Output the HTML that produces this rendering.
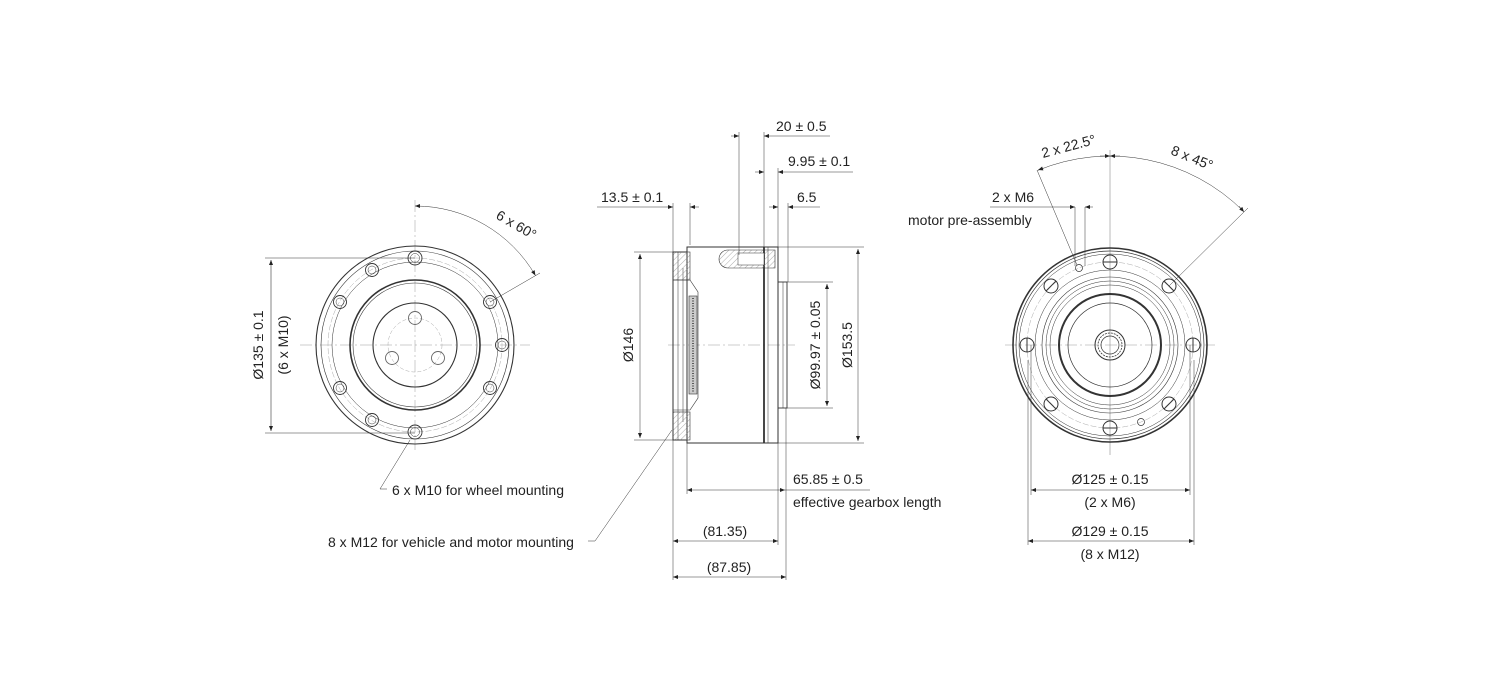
<!DOCTYPE html>
<html><head><meta charset="utf-8"><style>
html,body{margin:0;padding:0;background:#fff}
svg{display:block}
text{font-family:"Liberation Sans",sans-serif;font-size:14px;fill:#222}
</style></head><body>
<svg width="1500" height="700" viewBox="0 0 1500 700" xmlns="http://www.w3.org/2000/svg">
<defs>
<marker id="a" viewBox="0 0 10 10" refX="10" refY="5" markerWidth="7" markerHeight="5" orient="auto-start-reverse" markerUnits="userSpaceOnUse"><path d="M0,1 L10,5 L0,9z" fill="#222"/></marker>
<pattern id="h" width="4" height="4" patternUnits="userSpaceOnUse" patternTransform="rotate(45)"><line x1="0" y1="0" x2="0" y2="4" stroke="#888" stroke-width="0.7"/></pattern>
</defs>
<g fill="none" stroke="#333" stroke-width="0.9">
<!-- LEFT VIEW -->
<g>
<line x1="300" y1="345" x2="530" y2="345" stroke="#999" stroke-width="0.5" stroke-dasharray="12,3,2,3"/>
<line x1="415" y1="200" x2="415" y2="450" stroke="#999" stroke-width="0.5" stroke-dasharray="12,3,2,3"/>
<circle cx="415" cy="345" r="99" stroke-width="1.1"/>
<circle cx="415" cy="345" r="94" stroke-width="0.6"/>
<circle cx="415" cy="345" r="87" stroke="#aaa" stroke-width="0.5" stroke-dasharray="6,2"/>
<circle cx="415" cy="345" r="83" stroke-width="0.5"/>
<circle cx="415" cy="345" r="65" stroke-width="1.6"/>
<circle cx="415" cy="345" r="62" stroke-width="0.6"/>
<circle cx="415" cy="345" r="42" stroke-width="1.1"/>
<circle cx="415" cy="345" r="27" stroke="#aaa" stroke-width="0.5" stroke-dasharray="4,2"/>
<g id="lh">
</g>
<circle cx="415" cy="258" r="7"/><circle cx="415" cy="258" r="4.5" stroke-width="0.5"/>
<circle cx="415" cy="432" r="7"/><circle cx="415" cy="432" r="4.5" stroke-width="0.5"/>
<circle cx="372" cy="270" r="6.5"/><circle cx="372" cy="270" r="4" stroke-width="0.5"/>
<circle cx="340" cy="302" r="6.5"/><circle cx="340" cy="302" r="4" stroke-width="0.5"/>
<circle cx="340" cy="388" r="6.5"/><circle cx="340" cy="388" r="4" stroke-width="0.5"/>
<circle cx="372" cy="420" r="6.5"/><circle cx="372" cy="420" r="4" stroke-width="0.5"/>
<circle cx="490" cy="302" r="6.5"/><circle cx="490" cy="302" r="4" stroke-width="0.5"/>
<circle cx="502" cy="345" r="6.5"/><circle cx="502" cy="345" r="4" stroke-width="0.5"/>
<circle cx="490" cy="388" r="6.5"/><circle cx="490" cy="388" r="4" stroke-width="0.5"/>
<circle cx="415" cy="318" r="6.5" stroke="#666"/>
<circle cx="392" cy="358" r="6.5" stroke="#666"/>
<circle cx="438" cy="358" r="6.5" stroke="#666"/>
<!-- dims -->
<line x1="265" y1="258" x2="415" y2="258" stroke-width="0.5"/>
<line x1="265" y1="433" x2="415" y2="433" stroke-width="0.5"/>
<line x1="271" y1="260" x2="271" y2="431" stroke-width="0.6" marker-start="url(#a)" marker-end="url(#a)"/>
<path d="M415,206 A139,139 0 0 1 535.4,275.5" stroke-width="0.5" marker-start="url(#a)" marker-end="url(#a)"/>
<line x1="490" y1="302" x2="540" y2="273" stroke-width="0.5"/>
<polyline points="410,440 380,489 387,489" stroke-width="0.5"/>
<polyline points="672,430 595,541 588,541" stroke-width="0.5"/>
</g>

<!-- SIDE VIEW -->
<g>
<line x1="668" y1="345" x2="795" y2="345" stroke="#999" stroke-width="0.5" stroke-dasharray="12,3,2,3"/>
<rect x="687" y="247" width="91" height="196" stroke-width="1"/>
<line x1="764" y1="247" x2="764" y2="443" stroke-width="1.8"/>
<line x1="768" y1="247" x2="768" y2="443" stroke-width="0.5"/>
<rect x="778" y="282" width="9" height="126" stroke-width="0.9"/>
<line x1="783" y1="282" x2="783" y2="408" stroke-width="0.5"/>
<path d="M687,252 L673,252 L673,440 L687,440" stroke-width="1"/>
<line x1="678" y1="252" x2="678" y2="440" stroke-width="0.5"/>
<line x1="683" y1="268" x2="683" y2="422" stroke-width="0.5"/>
<rect x="673" y="252" width="17" height="28" fill="url(#h)" stroke-width="0.6"/>
<rect x="673" y="412" width="17" height="28" fill="url(#h)" stroke-width="0.6"/>
<path d="M673,280 L690,280 L698,292 L698,398 L690,410 L673,410" stroke-width="0.6"/>
<rect x="689" y="296" width="8" height="98" fill="#ccc" stroke-width="0.6"/>
<line x1="693" y1="298" x2="693" y2="392" stroke="#333" stroke-width="1.5" stroke-dasharray="1,1.5"/>
<path d="M728,250 L775,250 L775,268 L728,268 A9,9 0 0 1 728,250z" fill="url(#h)" stroke-width="0.6"/>
<rect x="738" y="253" width="26" height="12" fill="#fff" stroke-width="0.5"/>
<!-- extension lines -->
<line x1="673" y1="203" x2="673" y2="580" stroke-width="0.5"/>
<line x1="690" y1="203" x2="690" y2="245" stroke-width="0.5"/>
<line x1="739" y1="132" x2="739" y2="255" stroke-width="0.5"/>
<line x1="764" y1="132" x2="764" y2="247" stroke-width="0.5"/>
<line x1="778" y1="168" x2="778" y2="545" stroke-width="0.5"/>
<line x1="788" y1="203" x2="788" y2="282" stroke-width="0.5"/>
<line x1="786" y1="408" x2="786" y2="580" stroke-width="0.5"/>
<line x1="687" y1="443" x2="687" y2="494" stroke-width="0.5"/>
<!-- horizontal dims -->
<line x1="731" y1="136" x2="739" y2="136" stroke-width="0.5" marker-end="url(#a)"/>
<line x1="764" y1="136" x2="830" y2="136" stroke-width="0.5" marker-start="url(#a)"/>
<line x1="755" y1="172" x2="764" y2="172" stroke-width="0.5" marker-end="url(#a)"/>
<line x1="778" y1="172" x2="853" y2="172" stroke-width="0.5" marker-start="url(#a)"/>
<line x1="769" y1="207" x2="778" y2="207" stroke-width="0.5" marker-end="url(#a)"/>
<line x1="788" y1="207" x2="820" y2="207" stroke-width="0.5" marker-start="url(#a)"/>
<line x1="597" y1="207" x2="673" y2="207" stroke-width="0.5" marker-end="url(#a)"/>
<line x1="690" y1="207" x2="699" y2="207" stroke-width="0.5" marker-start="url(#a)"/>
<line x1="687" y1="490" x2="785" y2="490" stroke-width="0.5" marker-start="url(#a)" marker-end="url(#a)"/>
<line x1="785" y1="490" x2="870" y2="490" stroke-width="0.5"/>
<line x1="673" y1="541" x2="778" y2="541" stroke-width="0.5" marker-start="url(#a)" marker-end="url(#a)"/>
<line x1="673" y1="577" x2="786" y2="577" stroke-width="0.5" marker-start="url(#a)" marker-end="url(#a)"/>
<!-- vertical dims -->
<line x1="634" y1="252" x2="673" y2="252" stroke-width="0.5"/>
<line x1="634" y1="440" x2="673" y2="440" stroke-width="0.5"/>
<line x1="640" y1="254" x2="640" y2="438" stroke-width="0.5" marker-start="url(#a)" marker-end="url(#a)"/>
<line x1="787" y1="282" x2="833" y2="282" stroke-width="0.5"/>
<line x1="787" y1="408" x2="833" y2="408" stroke-width="0.5"/>
<line x1="827" y1="284" x2="827" y2="406" stroke-width="0.5" marker-start="url(#a)" marker-end="url(#a)"/>
<line x1="778" y1="247" x2="864" y2="247" stroke-width="0.5"/>
<line x1="778" y1="443" x2="864" y2="443" stroke-width="0.5"/>
<line x1="858" y1="249" x2="858" y2="441" stroke-width="0.5" marker-start="url(#a)" marker-end="url(#a)"/>
</g>

<!-- RIGHT VIEW -->
<g>
<line x1="1005" y1="345" x2="1215" y2="345" stroke="#999" stroke-width="0.5" stroke-dasharray="12,3,2,3"/>
<line x1="1110" y1="150" x2="1110" y2="455" stroke="#777" stroke-width="0.5"/>
<circle cx="1110" cy="345" r="97" stroke-width="1.6"/>
<circle cx="1110" cy="345" r="94" stroke-width="0.7"/>
<circle cx="1110" cy="345" r="91" stroke-width="0.5"/>
<circle cx="1110" cy="345" r="83" stroke="#aaa" stroke-width="0.5" stroke-dasharray="6,2"/>
<circle cx="1110" cy="345" r="75" stroke-width="0.5"/>
<circle cx="1110" cy="345" r="68" stroke-width="0.6"/>
<circle cx="1110" cy="345" r="64" stroke-width="0.5"/>
<circle cx="1110" cy="345" r="60" stroke-width="0.5"/>
<circle cx="1110" cy="345" r="51" stroke-width="2"/>
<circle cx="1110" cy="345" r="42" stroke-width="0.7"/>
<circle cx="1110" cy="345" r="15" stroke-width="1"/>
<circle cx="1110" cy="345" r="12" stroke-width="0.8" stroke-dasharray="2,1"/>
<circle cx="1110" cy="345" r="9" stroke-width="0.7"/>
<g stroke-width="1">
<circle cx="1110" cy="262" r="7"/><line x1="1103" y1="262" x2="1117" y2="262"/>
<circle cx="1110" cy="428" r="7"/><line x1="1103" y1="428" x2="1117" y2="428"/>
<circle cx="1027" cy="345" r="7"/><line x1="1027" y1="338" x2="1027" y2="352"/>
<circle cx="1193" cy="345" r="7"/><line x1="1193" y1="338" x2="1193" y2="352"/>
<circle cx="1051" cy="286" r="7"/><line x1="1046" y1="291" x2="1056" y2="281"/>
<circle cx="1169" cy="286" r="7"/><line x1="1164" y1="281" x2="1174" y2="291"/>
<circle cx="1051" cy="404" r="7"/><line x1="1046" y1="399" x2="1056" y2="409"/>
<circle cx="1169" cy="404" r="7"/><line x1="1164" y1="409" x2="1174" y2="399"/>
</g>
<circle cx="1079" cy="268" r="3.5" stroke-width="0.7"/>
<circle cx="1141" cy="422" r="3.5" stroke-width="0.7"/>
<!-- dims -->
<path d="M1037.7,170.4 A189,189 0 0 1 1243.6,211.4" stroke-width="0.5"/>
<line x1="1100" y1="156" x2="1110" y2="156" stroke-width="0.5" marker-end="url(#a)"/>
<line x1="1120" y1="156" x2="1110" y2="156" stroke-width="0.5" marker-end="url(#a)"/>
<line x1="1044" y1="168" x2="1038" y2="170" stroke-width="0.5" marker-end="url(#a)"/>
<line x1="1239" y1="206" x2="1244" y2="212" stroke-width="0.5" marker-end="url(#a)"/>
<line x1="1037" y1="170" x2="1077" y2="265" stroke-width="0.5"/>
<line x1="1169" y1="286" x2="1248" y2="208" stroke-width="0.5"/>
<line x1="1075" y1="207" x2="1075" y2="266" stroke-width="0.5"/>
<line x1="1085" y1="207" x2="1085" y2="266" stroke-width="0.5"/>
<line x1="990" y1="207" x2="1075" y2="207" stroke-width="0.5" marker-end="url(#a)"/>
<line x1="1093" y1="207" x2="1085" y2="207" stroke-width="0.5" marker-end="url(#a)"/>
<line x1="1031" y1="345" x2="1031" y2="495" stroke-width="0.5"/>
<line x1="1190" y1="345" x2="1190" y2="495" stroke-width="0.5"/>
<line x1="1028" y1="360" x2="1028" y2="545" stroke-width="0.5"/>
<line x1="1194" y1="360" x2="1194" y2="545" stroke-width="0.5"/>
<line x1="1031" y1="490" x2="1190" y2="490" stroke-width="0.5" marker-start="url(#a)" marker-end="url(#a)"/>
<line x1="1028" y1="541" x2="1194" y2="541" stroke-width="0.5" marker-start="url(#a)" marker-end="url(#a)"/>
</g>
</g>

<!-- TEXT -->
<text x="263" y="345" text-anchor="middle" transform="rotate(-90 263 345)">Ø135 ± 0.1</text>
<text x="288" y="345" text-anchor="middle" transform="rotate(-90 288 345)">(6 x M10)</text>
<text x="495" y="218" transform="rotate(30 495 218)">6 x 60°</text>
<text x="392" y="495">6 x M10 for wheel mounting</text>
<text x="328" y="547">8 x M12 for vehicle and motor mounting</text>
<text x="776" y="131">20 ± 0.5</text>
<text x="788" y="166">9.95 ± 0.1</text>
<text x="797" y="202">6.5</text>
<text x="601" y="202">13.5 ± 0.1</text>
<text x="633" y="345" text-anchor="middle" transform="rotate(-90 633 345)">Ø146</text>
<text x="820" y="345" text-anchor="middle" transform="rotate(-90 820 345)">Ø99.97 ± 0.05</text>
<text x="852" y="345" text-anchor="middle" transform="rotate(-90 852 345)">Ø153.5</text>
<text x="793" y="484">65.85 ± 0.5</text>
<text x="793" y="507">effective gearbox length</text>
<text x="725" y="536" text-anchor="middle">(81.35)</text>
<text x="729" y="572" text-anchor="middle">(87.85)</text>
<text x="1043" y="158" transform="rotate(-15 1043 158)">2 x 22.5°</text>
<text x="1170" y="154" transform="rotate(22 1170 154)">8 x 45°</text>
<text x="992" y="202">2 x M6</text>
<text x="908" y="225">motor pre-assembly</text>
<text x="1110" y="484" text-anchor="middle">Ø125 ± 0.15</text>
<text x="1110" y="507" text-anchor="middle">(2 x M6)</text>
<text x="1110" y="536" text-anchor="middle">Ø129 ± 0.15</text>
<text x="1110" y="559" text-anchor="middle">(8 x M12)</text>
</svg>
</body></html>
